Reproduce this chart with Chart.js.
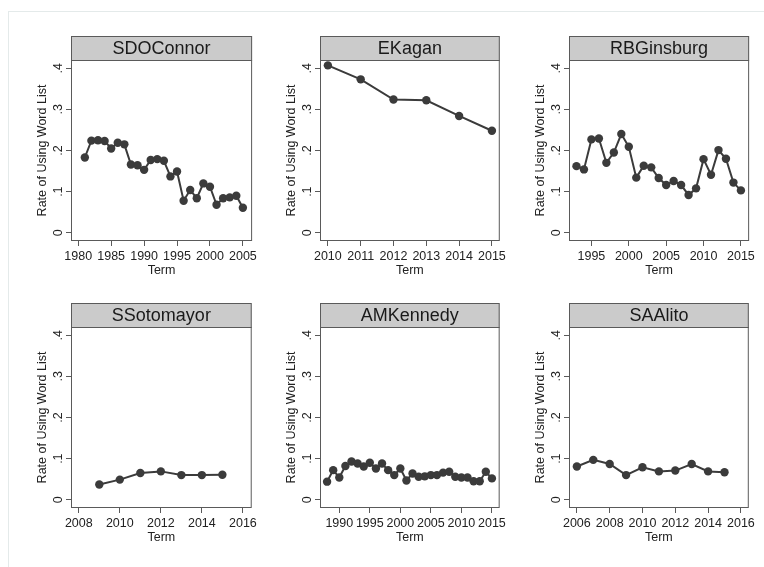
<!DOCTYPE html>
<html>
<head>
<meta charset="utf-8">
<script src="https://cdn.jsdelivr.net/npm/chart.js@4.4.1/dist/chart.umd.min.js"></script>
<style>
  body { margin: 0; background: #fff; }
  #wrap { position: relative; width: 764px; height: 567px; overflow: hidden; }
  #frame { position: absolute; left: 8px; top: 11px; width: 780px; height: 600px;
           border-left: 1px solid #e4eaea; border-top: 1px solid #e4eaea; }
  canvas { position: absolute; }
</style>
</head>
<body>
<div id="wrap">
  <div id="frame"></div>
  <canvas id="c0"></canvas>
  <canvas id="c1"></canvas>
  <canvas id="c2"></canvas>
  <canvas id="c3"></canvas>
  <canvas id="c4"></canvas>
  <canvas id="c5"></canvas>
</div>
<script>
// panel names, in reading order
const justices = ["SDOConnor", "EKagan", "RBGinsburg", "SSotomayor", "AMKennedy", "SAAlito"];

// terms and rates
const oconnorTerms = [1981, 1982, 1983, 1984, 1985, 1986, 1987, 1988, 1989, 1990, 1991, 1992, 1993,
  1994, 1995, 1996, 1997, 1998, 1999, 2000, 2001, 2002, 2003, 2004, 2005];
const oconnorRates = [.183, .224, .225, .223, .205, .219, .215, .166, .164, .153, .177, .179, .175,
  .137, .149, .078, .104, .084, .120, .112, .068, .084, .086, .090, .061];

const kaganTerms = [2010, 2011, 2012, 2013, 2014, 2015];
const kaganRates = [.407, .373, .324, .322, .284, .248];

const ginsburgTerms = [1993, 1994, 1995, 1996, 1997, 1998, 1999, 2000, 2001, 2002, 2003, 2004,
  2005, 2006, 2007, 2008, 2009, 2010, 2011, 2012, 2013, 2014, 2015];
const ginsburgRates = [.162, .154, .227, .229, .170, .195, .240, .209, .134, .163, .159, .133,
  .116, .126, .116, .092, .108, .179, .141, .201, .180, .122, .103];

const sotomayorTerms = [2009, 2010, 2011, 2012, 2013, 2014, 2015];
const sotomayorRates = [.037, .049, .065, .069, .060, .060, .061];

const kennedyTerms = [1988, 1989, 1990, 1991, 1992, 1993, 1994, 1995, 1996, 1997, 1998, 1999,
  2000, 2001, 2002, 2003, 2004, 2005, 2006, 2007, 2008, 2009, 2010, 2011, 2012, 2013, 2014, 2015];
const kennedyRates = [.044, .072, .054, .082, .093, .088, .081, .090, .076, .088, .072, .060,
  .076, .047, .064, .056, .057, .060, .060, .066, .068, .056, .054, .054, .045, .045, .068, .052];

const alitoTerms = [2006, 2007, 2008, 2009, 2010, 2011, 2012, 2013, 2014, 2015];
const alitoRates = [.081, .097, .087, .060, .079, .069, .071, .087, .069, .067];

// tick labels
const yTicks = [0, .1, .2, .3, .4];
const yTickLabels = ["0", ".1", ".2", ".3", ".4"];
const xTicksOConnor = [1980, 1985, 1990, 1995, 2000, 2005];
const xTicksKagan = [2010, 2011, 2012, 2013, 2014, 2015];
const xTicksGinsburg = [1995, 2000, 2005, 2010, 2015];
const xTicksSotomayor = [2008, 2010, 2012, 2014, 2016];
const xTicksKennedy = [1990, 1995, 2000, 2005, 2010, 2015];
const xTicksAlito = [2006, 2008, 2010, 2012, 2014, 2016];

const panels = [
  { terms: oconnorTerms, rates: oconnorRates, ticks: xTicksOConnor, xmin: 1978.9, xmax: 2006.4 },
  { terms: kaganTerms, rates: kaganRates, ticks: xTicksKagan, xmin: 2009.76, xmax: 2015.24 },
  { terms: ginsburgTerms, rates: ginsburgRates, ticks: xTicksGinsburg, xmin: 1992.0, xmax: 2016.1 },
  { terms: sotomayorTerms, rates: sotomayorRates, ticks: xTicksSotomayor, xmin: 2007.62, xmax: 2016.43 },
  { terms: kennedyTerms, rates: kennedyRates, ticks: xTicksKennedy, xmin: 1986.84, xmax: 2016.27 },
  { terms: alitoTerms, rates: alitoRates, ticks: xTicksAlito, xmin: 2005.52, xmax: 2016.48 }
];

const FONT = "'Liberation Sans', Arial, Helvetica, sans-serif";
const INK = "#3b3b3b";
const EDGE = "#5a5a5a";

// gray strip with the name, plot frame, and vertical y labels (Stata look)
const stataBits = {
  id: "stataBits",
  afterDraw(chart, args, opts) {
    const { ctx, chartArea: a, scales } = chart;
    ctx.save();
    // strip
    ctx.fillStyle = "#cbcbcb";
    ctx.fillRect(a.left, a.top - 24, a.right - a.left, 24);
    ctx.strokeStyle = EDGE;
    ctx.lineWidth = 1;
    ctx.strokeRect(a.left + 0.5, a.top - 23.5, a.right - a.left - 1, 24);
    ctx.fillStyle = "#1a1a1a";
    ctx.font = "18px " + FONT;
    ctx.textAlign = "center";
    ctx.textBaseline = "middle";
    ctx.fillText(opts.name, (a.left + a.right) / 2, a.top - 11);
    // plot frame
    ctx.strokeRect(a.left + 0.5, a.top + 0.5, a.right - a.left - 1, a.bottom - a.top - 1);
    // rotated y tick labels
    ctx.fillStyle = "#222";
    ctx.font = "12.5px " + FONT;
    yTicks.forEach((v, i) => {
      const y = scales.y.getPixelForValue(v);
      ctx.save();
      ctx.translate(a.left - 12, y);
      ctx.rotate(-Math.PI / 2);
      ctx.fillText(yTickLabels[i], 0, 0);
      ctx.restore();
    });
    ctx.restore();
  }
};

const colLeft = [11, 260, 509];
const rowTop = [20, 287];

panels.forEach((p, i) => {
  const el = document.getElementById("c" + i);
  el.width = 249;
  el.height = 267;
  el.style.width = "249px";
  el.style.height = "267px";
  el.style.left = colLeft[i % 3] + "px";
  el.style.top = rowTop[Math.floor(i / 3)] + "px";

  new Chart(el.getContext("2d"), {
    type: "line",
    data: {
      datasets: [{
        data: p.terms.map((t, k) => ({ x: t, y: p.rates[k] })),
        borderColor: INK,
        backgroundColor: INK,
        borderWidth: 2,
        pointRadius: 4.2,
        pointBackgroundColor: INK,
        pointBorderWidth: 0,
        tension: 0
      }]
    },
    options: {
      responsive: false,
      animation: false,
      devicePixelRatio: 1,
      layout: { padding: { top: 40, right: 4, left: 0, bottom: 0 } },
      plugins: {
        legend: { display: false },
        tooltip: { enabled: false },
        stataBits: { name: justices[i] }
      },
      scales: {
        x: {
          type: "linear",
          min: p.xmin,
          max: p.xmax,
          afterBuildTicks: s => { s.ticks = p.ticks.map(v => ({ value: v })); },
          afterFit: s => { s.height = 46; },
          grid: { drawOnChartArea: false, drawTicks: true, tickLength: 5, color: EDGE },
          border: { display: false },
          ticks: {
            color: "#222",
            font: { family: FONT, size: 12.5 },
            padding: 3,
            maxRotation: 0,
            autoSkip: false,
            callback: v => String(v)
          },
          title: {
            display: true,
            text: "Term",
            color: "#222",
            font: { family: FONT, size: 12.5 },
            padding: { top: 0, bottom: 9 }
          }
        },
        y: {
          min: -0.02,
          max: 0.42,
          afterBuildTicks: s => { s.ticks = yTicks.map(v => ({ value: v })); },
          afterFit: s => { s.width = 60; },
          grid: { drawOnChartArea: false, drawTicks: true, tickLength: 5, color: EDGE },
          border: { display: false },
          ticks: { display: false },
          title: {
            display: true,
            text: "Rate of Using Word List",
            color: "#222",
            font: { family: FONT, size: 12.5 },
            padding: { top: 24, bottom: 0 }
          }
        }
      }
    },
    plugins: [stataBits]
  });
});
</script>
</body>
</html>
